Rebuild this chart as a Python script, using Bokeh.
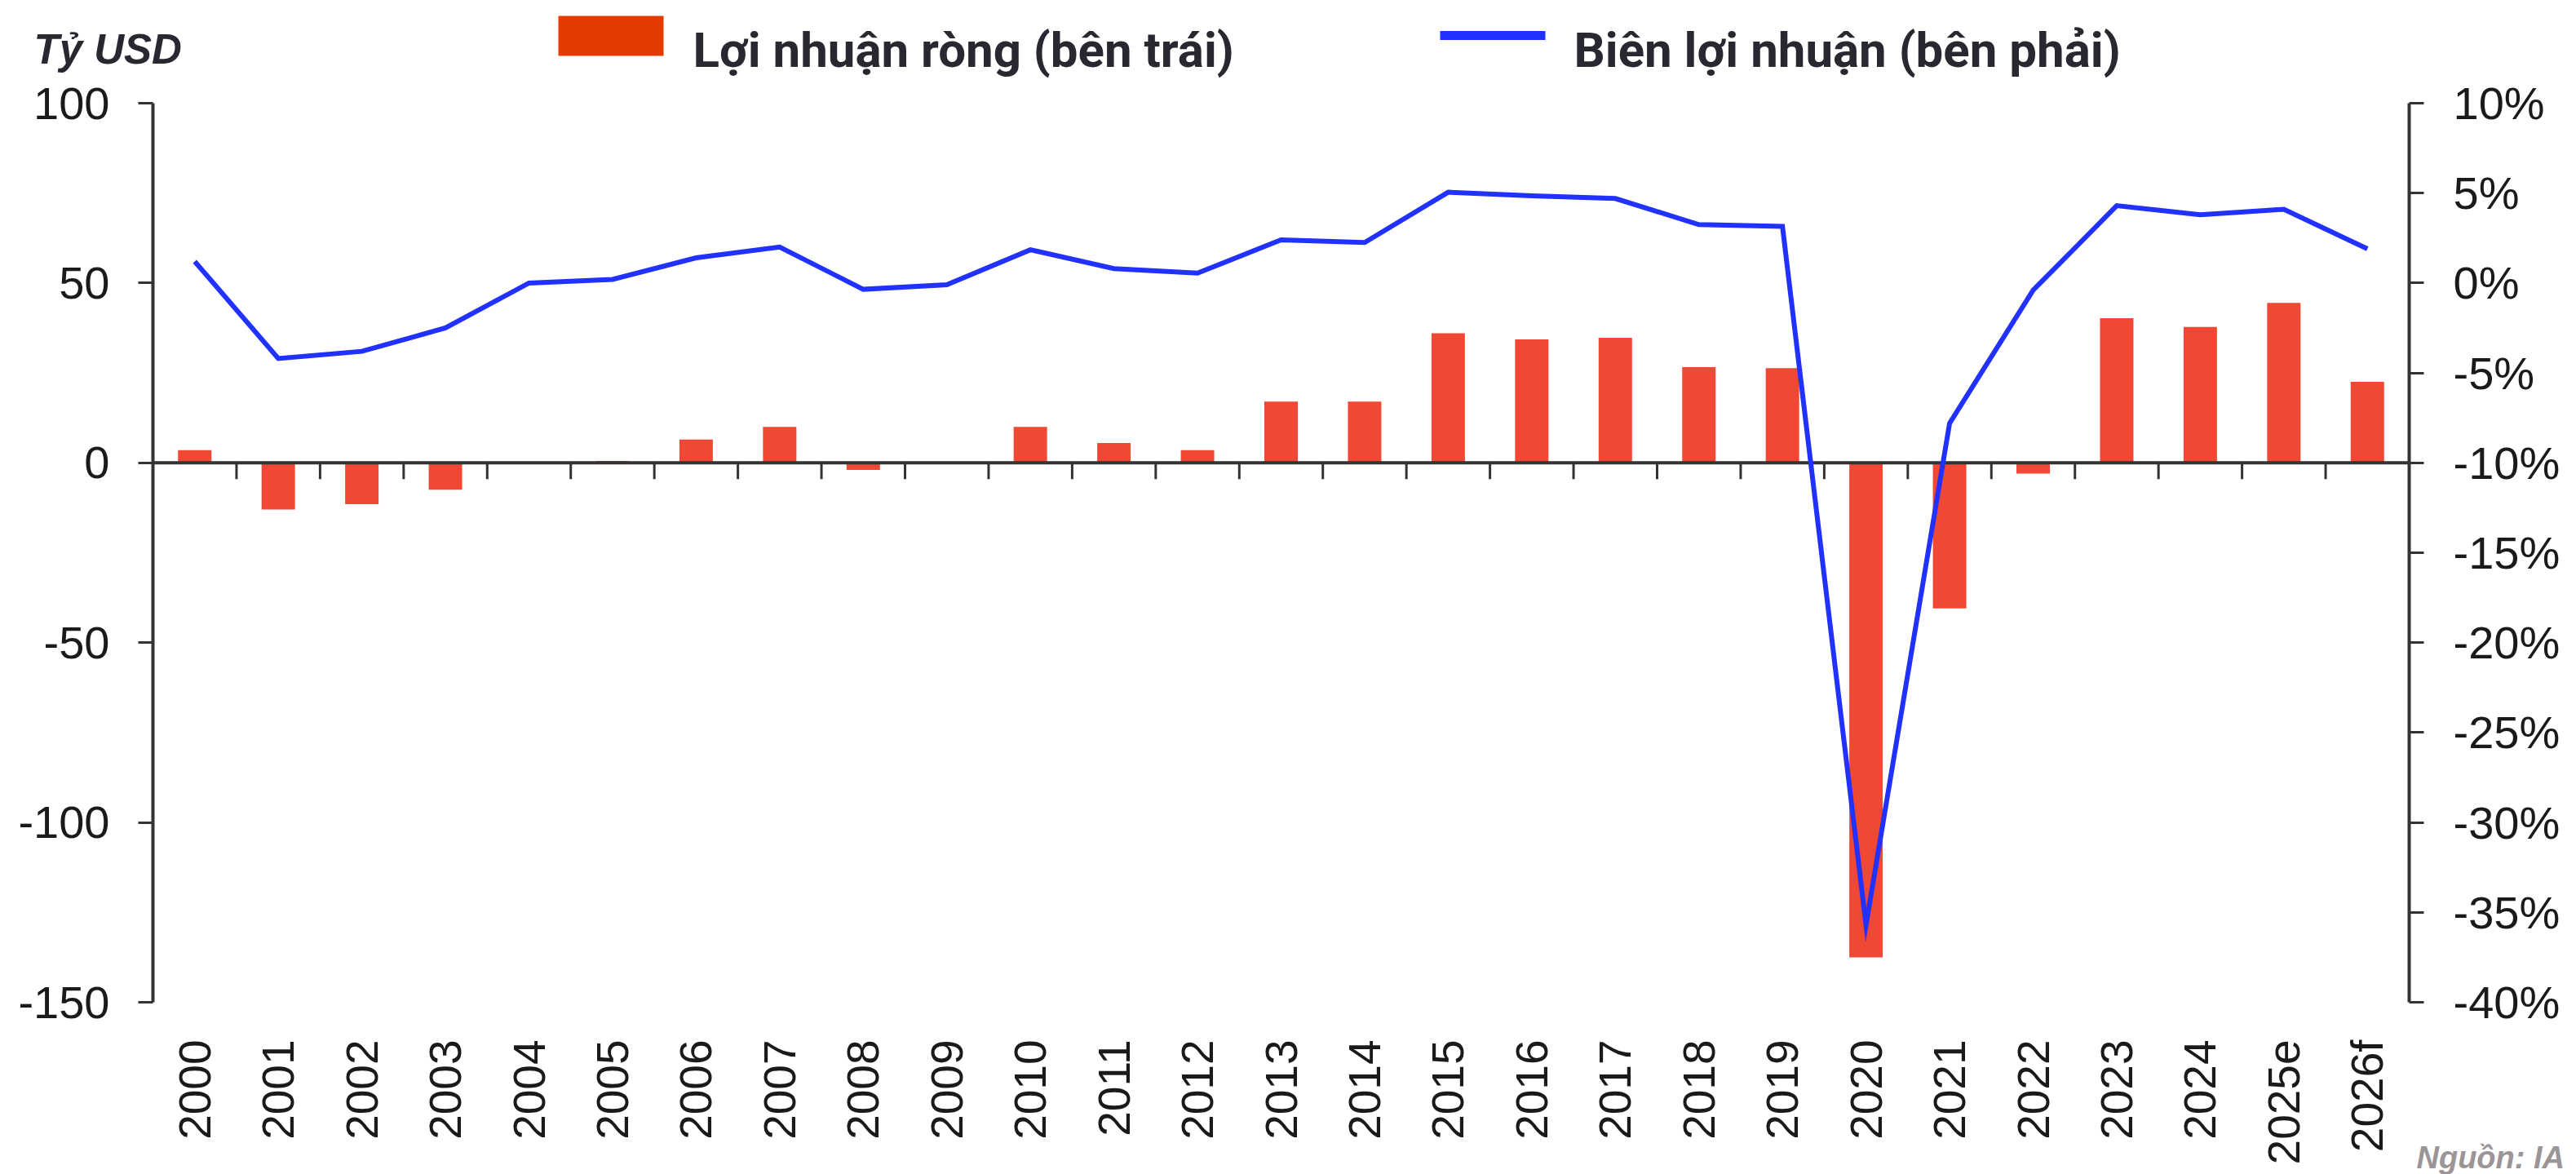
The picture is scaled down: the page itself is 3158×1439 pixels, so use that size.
from bokeh.plotting import figure
from bokeh.models import (Range1d, LinearAxis, FixedTicker, PrintfTickFormatter,
                          Label, ColumnDataSource, Grid)
from bokeh.embed import file_html
from bokeh.resources import INLINE

# ---------------- data ----------------
years = ["2000", "2001", "2002", "2003", "2004", "2005", "2006", "2007", "2008", "2009",
         "2010", "2011", "2012", "2013", "2014", "2015", "2016", "2017", "2018", "2019",
         "2020", "2021", "2022", "2023", "2024", "2025e", "2026f"]
net_profit = [3.5, -13, -11.5, -7.5, 0, 0.5, 6.5, 10, -2, 0,
              10, 5.5, 3.5, 17, 17, 36, 34.3, 34.8, 26.6, 26.3,
              -137.5, -40.5, -3, 40.2, 37.8, 44.5, 22.5]
margin_pct = [1.2, -4.2, -3.8, -2.5, 0.0, 0.2, 1.4, 2.0, -0.35, -0.1,
              1.85, 0.8, 0.55, 2.4, 2.25, 5.05, 4.85, 4.7, 3.25, 3.15,
              -35.7, -7.8, -0.4, 4.3, 3.8, 4.1, 1.9]
left_ticks = [-150, -100, -50, 0, 50, 100]
right_ticks = [-40, -35, -30, -25, -20, -15, -10, -5, 0, 5, 10]

unit_label = "Tỷ USD"
legend_bar = "Lợi nhuận ròng (bên trái)"
legend_line = "Biên lợi nhuận (bên phải)"
source_text = "Nguồn: IA"

# ---------------- styling / geometry (canvas pixels) ----------------
BAR = "#f04834"
BAR_SWATCH = "#e43a00"
LINE = "#2131ff"
AXIS = "#333333"
TEXT = "#2b2730"
LBL = "#1a1a1a"
FONT = "Liberation Sans"
LFONT = "Roboto"

W, H = 3158, 1439
ML, MR, MT, MB = 187, 205, 126, 211          # plot area inside the canvas
FW, FH = W - ML - MR, H - MT - MB

n = len(years)
idx = list(range(n))
x_lo, x_hi = idx[0] - 0.5, idx[-1] + 0.5
sx = (x_hi - x_lo) / FW
ky = FH / (left_ticks[-1] - left_ticks[0])
kp = FH / (right_ticks[-1] - right_ticks[0])

x_range = Range1d(x_lo - ML * sx, x_hi + MR * sx)
y_range = Range1d(left_ticks[0] - MB / ky, left_ticks[-1] + MT / ky)
p_range = Range1d(right_ticks[0] - MB / kp, right_ticks[-1] + MT / kp)

def X(px):          # canvas px -> x data
    return x_range.start + px * sx

def Y(py):          # canvas px (from top) -> left-axis data
    return y_range.end - py / ky

p = figure(width=W, height=H, x_range=x_range, y_range=y_range,
           output_backend="svg", toolbar_location=None,
           x_axis_location=None, y_axis_location=None,
           min_border=0, min_border_left=0, min_border_right=0,
           min_border_top=0, min_border_bottom=0)
p.extra_y_ranges = {"pct": p_range}
p.title.visible = False
p.outline_line_color = None
p.background_fill_color = "white"
p.border_fill_color = "white"
for g in p.select(type=Grid):
    g.visible = False

src = ColumnDataSource(dict(x=idx, net=net_profit, margin=margin_pct))
p.vbar(x="x", top="net", width=0.4, source=src, fill_color=BAR, line_color=None)

# zero line and its boundary ticks
p.segment(x0=[x_lo], y0=[0], x1=[x_hi], y1=[0], line_color=AXIS, line_width=4)
bnd = [i + 0.5 for i in idx[:-1]]
p.segment(x0=bnd, y0=[0] * len(bnd), x1=bnd, y1=[-20 / ky] * len(bnd),
          line_color=AXIS, line_width=3)

p.line(x="x", y="margin", source=src, y_range_name="pct",
       line_color=LINE, line_width=6, line_join="miter")

def style_y(ax, standoff):
    ax.axis_line_color = AXIS
    ax.axis_line_width = 4
    ax.major_tick_line_color = AXIS
    ax.major_tick_line_width = 3
    ax.major_tick_out = 18
    ax.major_tick_in = 0
    ax.minor_tick_line_color = None
    ax.major_label_standoff = standoff
    ax.major_label_text_font = FONT
    ax.major_label_text_font_size = "56px"
    ax.major_label_text_color = LBL

la = LinearAxis(ticker=FixedTicker(ticks=left_ticks), formatter=PrintfTickFormatter(format="%d"),
                fixed_location=x_lo, bounds=(left_ticks[0], left_ticks[-1]))
style_y(la, 35)
p.add_layout(la, "left")

ra = LinearAxis(y_range_name="pct", ticker=FixedTicker(ticks=right_ticks),
                formatter=PrintfTickFormatter(format="%d%%"),
                fixed_location=x_hi, bounds=(right_ticks[0], right_ticks[-1]))
style_y(ra, 36)
p.add_layout(ra, "right")

xa = LinearAxis(ticker=FixedTicker(ticks=idx), fixed_location=left_ticks[0],
                major_label_overrides={i: y for i, y in zip(idx, years)})
xa.axis_line_color = None
xa.major_tick_line_color = None
xa.minor_tick_line_color = None
xa.major_tick_out = 0
xa.major_tick_in = 0
xa.major_label_orientation = 3.14159265 / 2
xa.major_label_standoff = 46
xa.major_label_text_font = FONT
xa.major_label_text_font_size = "55px"
xa.major_label_text_color = LBL
p.add_layout(xa, "below")
for g in p.select(type=Grid):
    g.visible = False

# header: unit + legend
p.add_layout(Label(x=X(41), y=Y(60), text=unit_label, text_font=FONT,
                   text_font_style="bold italic", text_font_size="51px",
                   text_color=TEXT, text_baseline="alphabetic"))
p.quad(left=[X(684)], right=[X(813)], top=[Y(19)], bottom=[Y(68)],
       fill_color=BAR_SWATCH, line_color=None)
p.line(x=[X(1765), X(1894)], y=[Y(43), Y(43)], line_color=LINE, line_width=11)
for txt, x in ((legend_bar, 849), (legend_line, 1929)):
    p.add_layout(Label(x=X(x), y=Y(61), text=txt, text_font=LFONT, text_font_style="bold",
                       text_font_size="60px", text_color=TEXT, text_baseline="alphabetic"))

# source note
p.add_layout(Label(x=X(2962), y=Y(1418), text=source_text, text_font=FONT,
                   text_font_style="bold italic", text_font_size="38px",
                   text_color="#9b9597", text_baseline="alphabetic"))

open("out.html", "w").write(file_html(p, INLINE))
